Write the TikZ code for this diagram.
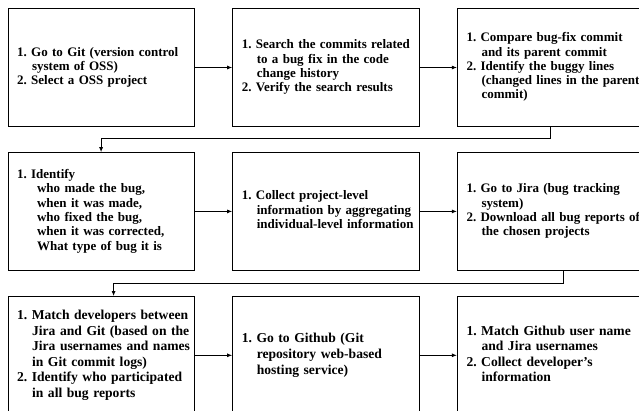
\documentclass[tikz,border=0pt]{standalone}
\usepackage{fontspec}
\setmainfont{Liberation Serif}
\usepackage{tikz}
\usetikzlibrary{shapes,arrows.meta,positioning}
\frenchspacing
\newcommand{\indline}{\hspace*{15pt}}
\newcommand{\steptext}[1]{\begin{tabular}{@{}l@{}}#1\end{tabular}}
\tikzstyle{stepbox}=[rectangle,draw,line width=0.9pt,align=left,text width=168pt,inner xsep=9pt,minimum width=186.3pt,minimum height=117.5pt,font=\fontsize{13}{14.3}\selectfont\bfseries]
\tikzstyle{lowbox}=[stepbox,font=\fontsize{13.6}{15.6}\selectfont\bfseries]
\tikzstyle{arr}=[-{Latex[length=5pt,width=4pt]},line width=0.9pt]
\begin{document}
\begin{tikzpicture}[node distance=25.5pt and 37.5pt]
\useasboundingbox (0,0) rectangle (639pt,-410pt);
\node[stepbox, anchor=north west] (A) at (7.5pt,-8.3pt) {\steptext{1. Go to Git (version control\\\indline system of OSS)\\2. Select a OSS project}};
\node[stepbox, right=of A] (B) {\steptext{1. Search the commits related\\\indline to a bug fix in the code\\\indline change history\\2. Verify the search results}};
\node[stepbox, right=of B] (C) {\steptext{1. Compare bug-fix commit\\\indline and its parent commit\\2. Identify the buggy lines\\\indline (changed lines in the parent\\\indline commit)}};
\node[stepbox, below=of A] (D) {\steptext{1. Identify\\\indline\hspace*{5pt}who made the bug,\\\indline\hspace*{5pt}when it was made,\\\indline\hspace*{5pt}who fixed the bug,\\\indline\hspace*{5pt}when it was corrected,\\\indline\hspace*{5pt}What type of bug it is}};
\node[stepbox, right=of D] (E) {\steptext{1. Collect project-level\\\indline information by aggregating\\\indline individual-level information}};
\node[stepbox, right=of E] (F) {\steptext{1. Go to Jira (bug tracking\\\indline system)\\2. Download all bug reports of\\\indline the chosen projects}};
\node[lowbox, below=of D] (G) {\steptext{1. Match developers between\\\indline Jira and Git (based on the\\\indline Jira usernames and names\\\indline in Git commit logs)\\2. Identify who participated\\\indline in all bug reports}};
\node[lowbox, right=of G] (H) {\steptext{1. Go to Github (Git\\\indline repository web-based\\\indline hosting service)}};
\node[lowbox, right=of H] (I) {\steptext{1. Match Github user name\\\indline and Jira usernames\\2. Collect developer's\\\indline information}};
\draw[arr] (A) -- (B);
\draw[arr] (B) -- (C);
\draw[arr] (C.south) -- ++(0,-12pt) -| (D.north);
\draw[arr] (D) -- (E);
\draw[arr] (E) -- (F);
\draw[arr] ([xshift=12.5pt]F.south) -- ++(0,-13pt) -| ([xshift=12.5pt]G.north);
\draw[arr] (G) -- (H);
\draw[arr] (H) -- (I);
\end{tikzpicture}
\end{document}
